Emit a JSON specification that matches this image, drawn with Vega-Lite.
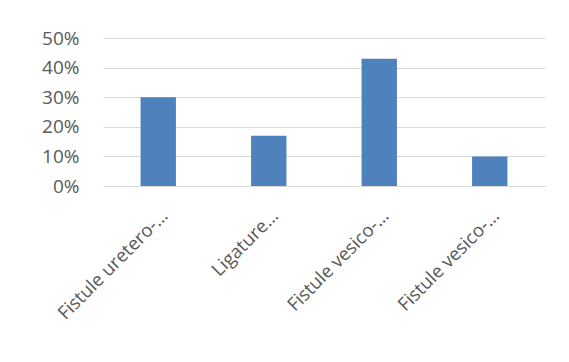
{
  "$schema": "https://vega.github.io/schema/vega-lite/v6.json",
  "width": 442,
  "height": 148,
  "autosize": "none",
  "padding": {"left": 103, "top": 38, "right": 24, "bottom": 176},
  "background": "#ffffff",
  "data": {
    "values": [
      {"categorie": "Fistule uretero-…", "part": 0.30},
      {"categorie": "Ligature…", "part": 0.17},
      {"categorie": "Fistule vesico-…", "part": 0.43},
      {"categorie": "Fistule vesico-… ", "part": 0.10}
    ]
  },
  "mark": {"type": "bar", "color": "#4f81bd"},
  "encoding": {
    "x": {
      "field": "categorie",
      "type": "nominal",
      "sort": null,
      "title": null,
      "scale": {"paddingInner": 0.68, "paddingOuter": 0.34},
      "axis": {
        "labelAngle": -45,
        "labelAlign": "right",
        "labelBaseline": "top",
        "labelFont": "Open Sans",
        "labelFontSize": 18.5,
        "labelColor": "#595959",
        "labelPadding": 20,
        "labelLimit": 400,
        "ticks": false,
        "domainColor": "#d9d9d9",
        "domainWidth": 1
      }
    },
    "y": {
      "field": "part",
      "type": "quantitative",
      "title": null,
      "scale": {"domain": [0, 0.5], "nice": false},
      "axis": {
        "values": [0, 0.1, 0.2, 0.3, 0.4, 0.5],
        "format": ".0%",
        "domain": false,
        "ticks": false,
        "labelFont": "Open Sans",
        "labelFontSize": 19,
        "labelColor": "#595959",
        "labelPadding": 24,
        "gridColor": "#d9d9d9",
        "gridWidth": 1
      }
    }
  },
  "config": {"view": {"stroke": null}}
}
